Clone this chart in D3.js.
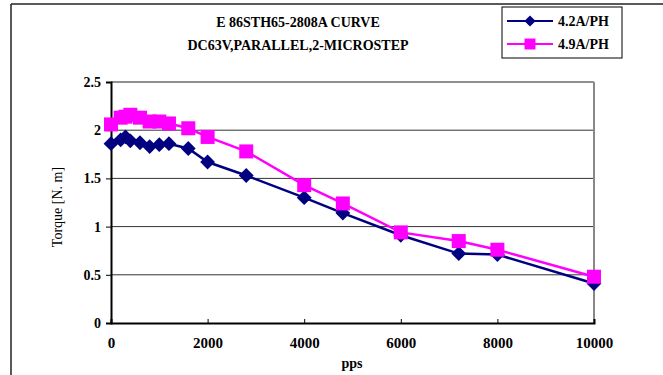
<!DOCTYPE html>
<html><head><meta charset="utf-8">
<script src="https://cdn.jsdelivr.net/npm/d3@7"></script>
<style>body{margin:0;background:#fff}svg{display:block}text{font-family:"Liberation Serif","DejaVu Serif",serif}</style>
</head><body><svg id="c" width="663" height="375"></svg>
<script>
const titleLines = ["E 86STH65-2808A CURVE", "DC63V,PARALLEL,2-MICROSTEP"];
const seriesNames = ["4.2A/PH", "4.9A/PH"];
const blueX = [0,200,300,400,600,800,1000,1200,1600,2000,2800,4000,4800,6000,7200,8000,10000];
const blueY = [1.86,1.90,1.93,1.89,1.87,1.83,1.85,1.86,1.81,1.67,1.53,1.30,1.14,0.91,0.72,0.71,0.41];
const pinkX = [0,200,300,400,600,800,1000,1200,1600,2000,2800,4000,4800,6000,7200,8000,10000];
const pinkY = [2.06,2.13,2.14,2.16,2.13,2.09,2.09,2.07,2.02,1.93,1.78,1.43,1.24,0.94,0.85,0.76,0.48];
const xTicks = [0,2000,4000,6000,8000,10000];
const yTicks = [0,0.5,1,1.5,2,2.5];
const xLabel = "pps", yLabel = "Torque [N. m]";

const svg = d3.select("#c");
const L=111, R=594, T=82, B=323;
const x = d3.scaleLinear().domain([0,10000]).range([L,R]);
const y = d3.scaleLinear().domain([0,2.5]).range([B,T]);

svg.append("line").attr("x1",11).attr("x2",663).attr("y1",4).attr("y2",4).attr("stroke","#222").attr("stroke-width",1.5);
svg.append("line").attr("x1",11).attr("x2",11).attr("y1",4).attr("y2",375).attr("stroke","#222").attr("stroke-width",1.5);

svg.append("g").selectAll("line").data(yTicks.filter(d=>d>0 && d<2.5)).join("line")
 .attr("x1",L).attr("x2",R).attr("y1",d=>y(d)).attr("y2",d=>y(d)).attr("stroke","#333").attr("stroke-width",1);
svg.append("line").attr("x1",L).attr("x2",R).attr("y1",T).attr("y2",T).attr("stroke","#222").attr("stroke-width",1.2);
svg.append("line").attr("x1",R).attr("x2",R).attr("y1",T).attr("y2",B).attr("stroke","#888").attr("stroke-width",2);

const yAxis = d3.axisLeft(y).tickValues(yTicks).tickSize(5).tickFormat(d=>d===0?"0":d3.format("")(d));
const gy = svg.append("g").attr("transform",`translate(${L},0)`).call(yAxis);
gy.select(".domain").attr("stroke","#000").attr("stroke-width",2);
gy.selectAll(".tick line").attr("stroke","#000");
gy.selectAll(".tick text").attr("x",-10).attr("font-size",14).attr("font-weight","bold").attr("fill","#000").attr("font-family","Liberation Serif");

const xAxis = d3.axisBottom(x).tickValues(xTicks).tickSize(-4).tickFormat(d3.format("d"));
const gx = svg.append("g").attr("transform",`translate(0,${B})`).call(xAxis);
gx.select(".domain").attr("stroke","#000").attr("stroke-width",2);
gx.selectAll(".tick line").attr("stroke","#000");
gx.selectAll(".tick text").attr("y",14).attr("font-size",15).attr("font-weight","bold").attr("fill","#000").attr("font-family","Liberation Serif");

svg.append("text").attr("x",352).attr("y",368).attr("text-anchor","middle").attr("font-size",14).attr("font-weight","bold").text(xLabel);
svg.append("text").attr("transform","translate(62,207) rotate(-90)").attr("text-anchor","middle").attr("font-size",14).text(yLabel);

svg.append("text").attr("x",298).attr("y",27).attr("text-anchor","middle").attr("font-size",14).attr("font-weight","bold").text(titleLines[0]);
svg.append("text").attr("x",298).attr("y",50).attr("text-anchor","middle").attr("font-size",14).attr("font-weight","bold").text(titleLines[1]);

const line = d3.line().x(d=>x(d[0])).y(d=>y(d[1]));
const blue = blueX.map((v,i)=>[v,blueY[i]]);
const pink = pinkX.map((v,i)=>[v,pinkY[i]]);
const cBlue="#000080", cPink="#FF00FF";
svg.append("path").datum(blue).attr("d",line).attr("fill","none").attr("stroke",cBlue).attr("stroke-width",2.5);
svg.append("path").datum(pink).attr("d",line).attr("fill","none").attr("stroke",cPink).attr("stroke-width",2.5);
const diamond = d3.symbol().type(d3.symbolDiamond2).size(140);
const square = d3.symbol().type(d3.symbolSquare).size(196);
svg.append("g").selectAll("path").data(blue).join("path").attr("d",diamond)
 .attr("transform",d=>`translate(${x(d[0])},${y(d[1])})`).attr("fill",cBlue);
svg.append("g").selectAll("path").data(pink).join("path").attr("d",square)
 .attr("transform",d=>`translate(${x(d[0])},${y(d[1])})`).attr("fill",cPink);

const lg = svg.append("g");
lg.append("rect").attr("x",502).attr("y",7).attr("width",120).attr("height",51).attr("fill","#fff").attr("stroke","#000").attr("stroke-width",1);
[[cBlue,21],[cPink,44]].forEach((s,i)=>{
  lg.append("line").attr("x1",507).attr("x2",553).attr("y1",s[1]).attr("y2",s[1]).attr("stroke",s[0]).attr("stroke-width",2);
  lg.append("path").attr("d",i===0?d3.symbol().type(d3.symbolDiamond2).size(80)():d3.symbol().type(d3.symbolSquare).size(120)()).attr("transform",`translate(530,${s[1]})`).attr("fill",s[0]);
  lg.append("text").attr("x",558).attr("y",s[1]+5).attr("font-size",14).attr("font-weight","bold").text(seriesNames[i]);
});
</script></body></html>
